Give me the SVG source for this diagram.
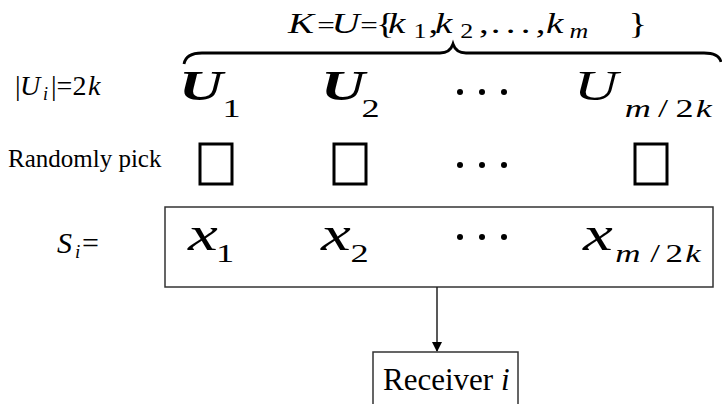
<svg xmlns="http://www.w3.org/2000/svg" width="722" height="404" viewBox="0 0 722 404" font-family="'Liberation Serif', 'Times New Roman', serif">
  <style>
    text { font-family: 'Liberation Serif', 'Times New Roman', serif; fill: #000; }
    .it { font-style: italic; }
    .bi { font-style: italic; font-weight: bold; }
    .sq { fill: none; stroke: #000; stroke-width: 3; }
    .box { fill: none; stroke: #333; stroke-width: 1.5; }
    .wire { fill: none; stroke: #222; stroke-width: 1.5; }
    .dot { fill: #000; }
  </style>
  <defs>
    <marker id="arrow" markerWidth="10" markerHeight="10" refX="9" refY="5" orient="auto" markerUnits="userSpaceOnUse">
      <path d="M0,0 L10,5 L0,10 Z" fill="#000"/>
    </marker>
  </defs>
  <rect width="722" height="404" fill="#fff"/>

  <!-- set definition above the brace (equation stretched horizontally) -->
  <g id="set-label">
    <text transform="translate(288,33) scale(1.3,1)" font-size="30"><tspan class="it" x="0" y="0">K</tspan><tspan x="22.5" font-size="24">=</tspan><tspan class="it" x="33.5">U</tspan><tspan x="55.5" font-size="24">=</tspan><tspan x="67.5">{</tspan><tspan class="it" x="77">k</tspan><tspan x="96.5" y="5" font-size="20">1</tspan><tspan x="108" y="0">,</tspan><tspan class="it" x="113">k</tspan><tspan x="132.5" y="5" font-size="20">2</tspan><tspan x="147" y="0">,</tspan><tspan x="156">.</tspan><tspan x="167.5">.</tspan><tspan x="179">.</tspan><tspan x="190.5">,</tspan><tspan class="it" x="198.5">k</tspan><tspan class="it" x="216.5" y="5" font-size="20">m</tspan><tspan x="262" y="0">}</tspan></text>
  </g>

  <!-- curly brace spanning the subsets -->
  <g id="brace">
    <path d="M184,64 Q186,53 202,53 L440,53 Q450,53 453,44 Q456,53 466,53 L704,53 Q719,53 721,62" fill="none" stroke="#000" stroke-width="2.8"/>
  </g>

  <!-- row labels -->
  <g id="label-size">
    <text font-size="28" y="95"><tspan x="15">|</tspan><tspan class="it" x="20">U</tspan><tspan class="it" x="43" y="100" font-size="18">i</tspan><tspan x="51" y="95">|=2</tspan><tspan class="it" x="88">k</tspan></text>
  </g>
  <g id="label-pick">
    <text x="8" y="167" font-size="25">Randomly pick</text>
  </g>
  <g id="label-s">
    <text font-size="30" y="253"><tspan class="it" x="57">S</tspan><tspan class="it" x="75" y="258" font-size="19">i</tspan><tspan x="82" y="253">=</tspan></text>
  </g>

  <!-- subsets U_1 ... U_{m/2k} -->
  <g id="subset-1">
    <text transform="translate(179,100) scale(1.45,1)"><tspan class="bi" x="0" font-size="42">U</tspan><tspan x="30" y="17" font-size="25">1</tspan></text>
  </g>
  <g id="subset-2">
    <text transform="translate(321,100) scale(1.45,1)"><tspan class="bi" x="0" font-size="42">U</tspan><tspan x="28" y="17" font-size="25">2</tspan></text>
  </g>
  <g id="subset-dots">
    <circle class="dot" cx="460" cy="92" r="3"/>
    <circle class="dot" cx="482" cy="92" r="3"/>
    <circle class="dot" cx="504" cy="92" r="3"/>
  </g>
  <g id="subset-last">
    <text transform="translate(574,100) scale(1.45,1)" font-size="25"><tspan class="it" x="0" font-size="42">U</tspan><tspan class="it" x="35" y="17">m</tspan><tspan x="58">/</tspan><tspan x="70">2</tspan><tspan class="it" x="84">k</tspan></text>
  </g>

  <!-- picked elements -->
  <g id="pick-1"><rect class="sq" x="200" y="144" width="32" height="40"/></g>
  <g id="pick-2"><rect class="sq" x="334" y="144" width="32" height="40"/></g>
  <g id="pick-dots">
    <circle class="dot" cx="460" cy="165" r="3"/>
    <circle class="dot" cx="482" cy="165" r="3"/>
    <circle class="dot" cx="504" cy="165" r="3"/>
  </g>
  <g id="pick-last"><rect class="sq" x="635" y="144" width="32" height="40"/></g>

  <!-- assembled share S_i -->
  <g id="share">
    <rect class="box" x="165" y="207" width="548" height="80"/>
    <text transform="translate(188,250) scale(1.4,1)"><tspan class="it" x="0" font-size="48">x</tspan><tspan x="20" y="12" font-size="26">1</tspan></text>
    <text transform="translate(321,250) scale(1.4,1)"><tspan class="it" x="0" font-size="48">x</tspan><tspan x="21" y="12" font-size="26">2</tspan></text>
    <circle class="dot" cx="460" cy="237" r="3"/>
    <circle class="dot" cx="482" cy="237" r="3"/>
    <circle class="dot" cx="504" cy="237" r="3"/>
    <text transform="translate(583,250) scale(1.4,1)" font-size="25"><tspan class="it" x="0" font-size="48">x</tspan><tspan class="it" x="23" y="12">m</tspan><tspan x="48">/</tspan><tspan x="59">2</tspan><tspan class="it" x="73">k</tspan></text>
  </g>

  <!-- connector to the receiver -->
  <g id="connectors">
    <line class="wire" x1="437" y1="287" x2="437" y2="351" marker-end="url(#arrow)"/>
  </g>

  <g id="receiver">
    <rect class="box" x="373" y="352" width="145" height="70"/>
    <text x="383" y="390" font-size="31">Receiver <tspan class="it">i</tspan></text>
  </g>
</svg>
